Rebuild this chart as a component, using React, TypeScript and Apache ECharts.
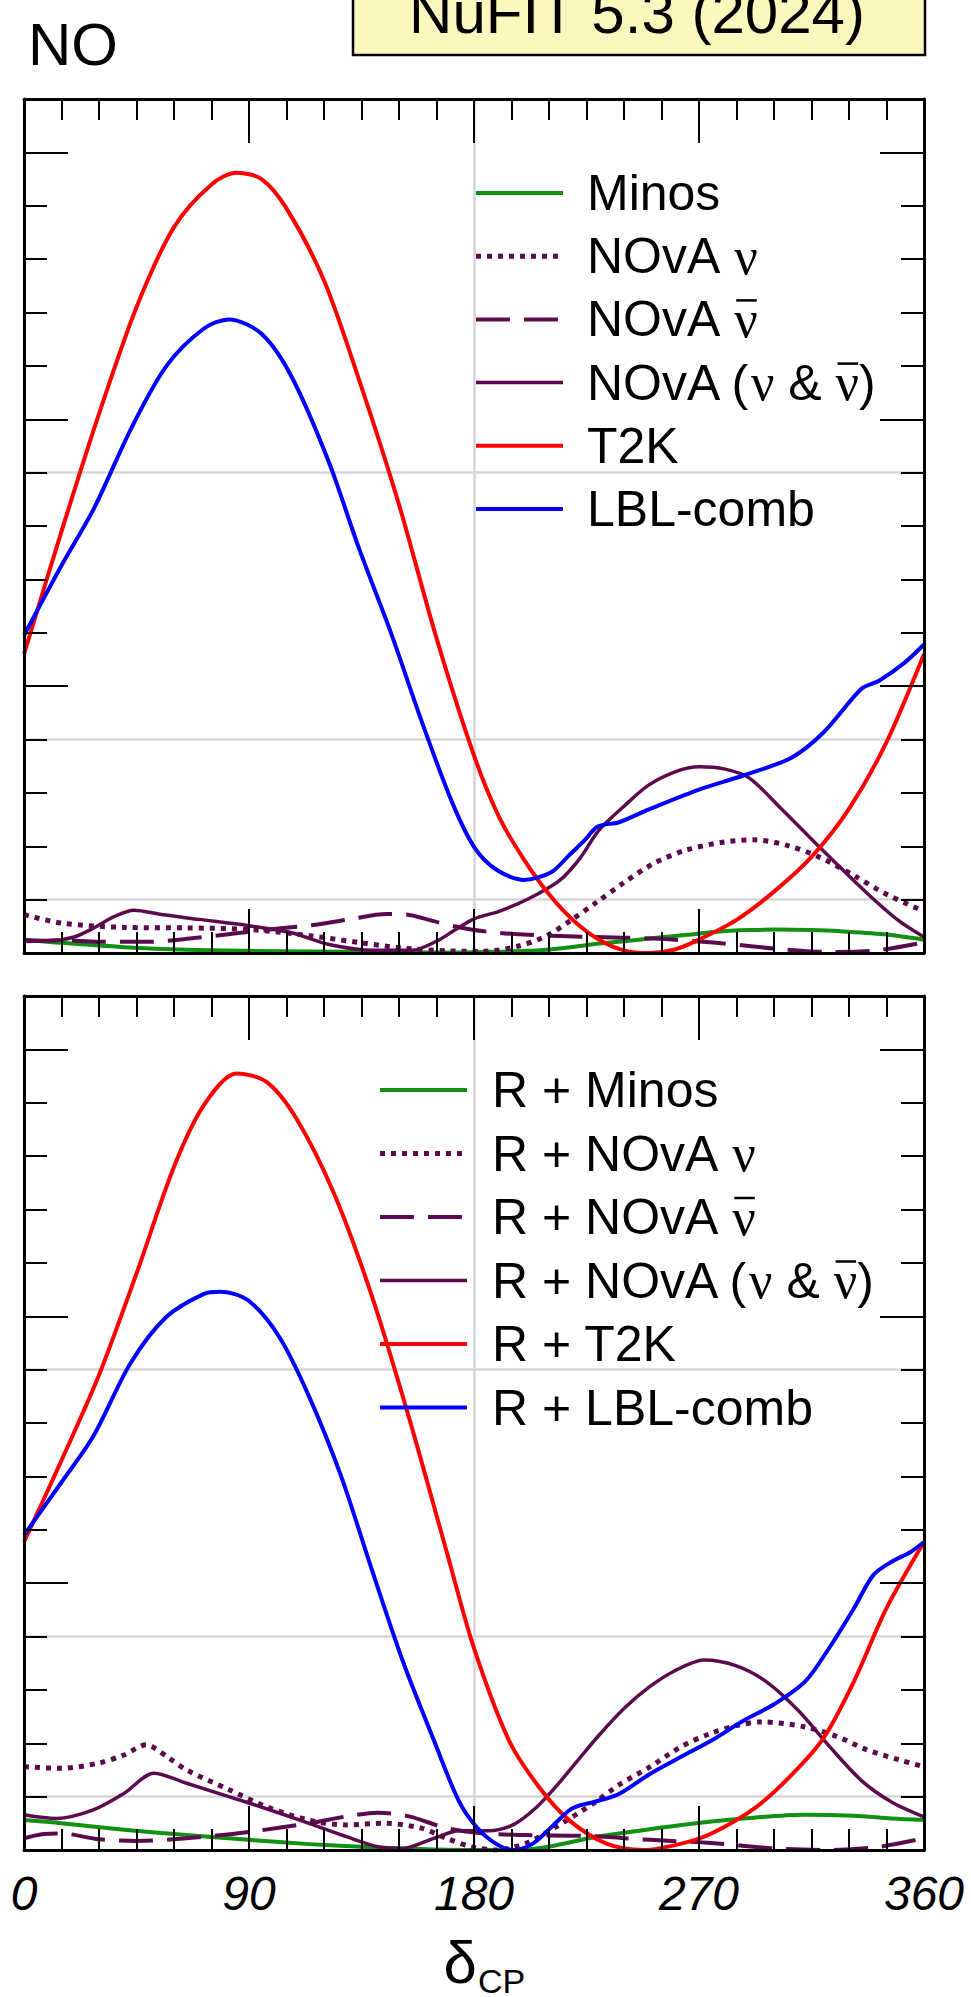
import React, { useEffect, useRef } from "react";
import * as echarts from "echarts";

// ---------- layout ----------
const W = 971;
const H = 1997;
const PLOT_L = 24;
const PLOT_W = 900;
const PLOT_H = 854;
const GRID_TOPS = [99, 996];

// ---------- axes / ticks ----------
const X_MIN = 0;
const X_MAX = 360;
const X_MAJOR = 90;
const X_MINOR = 15;
const Y_MIN = 0;
const Y_MAX = 16;
const Y_MAJOR = 5;
const Y_MINOR = 1;
const GRID_Y_VALUES = [1, 4, 9];
const GRID_X_VALUES = [180];

// ---------- top panel data (NO, without reactor) ----------
const minosTopX = [0, 15, 40, 65, 90, 115, 140, 165, 185, 202, 215, 227, 240, 252, 265, 277, 290, 302, 315, 326, 344, 360];
const minosTopY = [0.25, 0.19, 0.11, 0.06, 0.04, 0.03, 0.02, 0.01, 0.02, 0.04, 0.09, 0.16, 0.22, 0.28, 0.34, 0.4, 0.43, 0.44, 0.43, 0.41, 0.35, 0.25];

const novaNuTopX = [0, 15, 40, 65, 90, 115, 135, 152, 170, 183, 197, 209, 219, 229, 240, 252, 265, 280, 292, 305, 318, 332, 345, 360];
const novaNuTopY = [0.72, 0.56, 0.48, 0.47, 0.44, 0.32, 0.19, 0.09, 0.04, 0.03, 0.12, 0.32, 0.62, 0.95, 1.32, 1.68, 1.93, 2.08, 2.12, 2.02, 1.8, 1.45, 1.1, 0.78];

const novaNubarTopX = [0, 15, 30, 50, 68, 85, 100, 115, 130, 145, 153, 162, 172, 185, 202, 227, 252, 277, 301, 321, 339, 360];
const novaNubarTopY = [0.22, 0.24, 0.21, 0.21, 0.28, 0.37, 0.45, 0.52, 0.63, 0.73, 0.72, 0.62, 0.5, 0.4, 0.34, 0.3, 0.27, 0.19, 0.08, 0.02, 0.04, 0.2];

const novaBothTopX = [0, 10, 20, 28, 36, 44, 55, 70, 90, 107, 122, 140, 155, 165, 172, 180, 190, 202, 214, 222, 230, 240, 250, 262, 270, 280, 290, 303, 320, 337, 350, 360];
const novaBothTopY = [0.25, 0.23, 0.3, 0.47, 0.68, 0.8, 0.72, 0.63, 0.51, 0.38, 0.16, 0.05, 0.05, 0.22, 0.42, 0.64, 0.78, 1.02, 1.35, 1.75, 2.3, 2.75, 3.15, 3.42, 3.49, 3.45, 3.28, 2.7, 1.9, 1.13, 0.6, 0.3];

const t2kTopX = [0, 15, 30, 45, 60, 75, 85, 95, 105, 120, 135, 150, 165, 180, 190, 200, 210, 220, 230, 240, 250, 260, 270, 285, 300, 315, 330, 345, 360];
const t2kTopY = [5.6, 7.9, 10.1, 12.1, 13.6, 14.4, 14.62, 14.5, 13.95, 12.6, 10.6, 8.4, 5.9, 3.7, 2.55, 1.75, 1.1, 0.6, 0.25, 0.05, 0, 0.06, 0.25, 0.62, 1.15, 1.8, 2.7, 3.95, 5.6];

const lblTopX = [0, 15, 28, 43, 57, 72, 82, 95, 107, 122, 134, 147, 159, 171, 180, 189, 200, 206, 212, 218, 224, 229.5, 238, 250, 270, 288, 307, 320, 335, 342, 352, 360];
const lblTopY = [5.95, 7.26, 8.33, 9.84, 11.0, 11.7, 11.87, 11.6, 10.8, 9.19, 7.58, 5.97, 4.35, 2.85, 1.99, 1.56, 1.37, 1.42, 1.55, 1.83, 2.1, 2.37, 2.45, 2.69, 3.06, 3.33, 3.66, 4.14, 4.95, 5.1, 5.43, 5.78];

// ---------- bottom panel data (NO, with reactor R) ----------
const minosBotX = [0, 15, 40, 65, 90, 114, 139, 164, 189, 201, 213, 226, 238, 263, 288, 312, 332, 347, 360];
const minosBotY = [0.56, 0.5, 0.38, 0.28, 0.19, 0.11, 0.05, 0.01, 0, 0.01, 0.09, 0.22, 0.31, 0.47, 0.59, 0.66, 0.64, 0.59, 0.56];

const novaNuBotX = [0, 15, 30, 40, 48.8, 58, 65, 82, 97, 114, 129, 144, 159, 169, 179, 189, 201, 213, 228, 238, 250.5, 263, 275, 285, 295, 312, 325, 337, 350, 360];
const novaNuBotY = [1.56, 1.53, 1.63, 1.78, 1.97, 1.72, 1.5, 1.13, 0.81, 0.56, 0.47, 0.5, 0.41, 0.22, 0.06, 0.0, 0.13, 0.44, 0.88, 1.22, 1.56, 1.94, 2.19, 2.33, 2.4, 2.31, 2.13, 1.88, 1.69, 1.56];

const novaNubarBotX = [0, 8, 15, 30, 45, 65, 90, 114, 129, 141.6, 154, 169, 184, 201, 226, 250.5, 275, 300, 322, 342, 360];
const novaNubarBotY = [0.22, 0.3, 0.31, 0.2, 0.17, 0.22, 0.34, 0.5, 0.63, 0.7, 0.63, 0.41, 0.31, 0.28, 0.26, 0.19, 0.13, 0.03, 0, 0.06, 0.22];

const novaBothBotX = [0, 13, 27.7, 40, 52, 65, 90, 114, 129, 141.6, 151.5, 164, 174, 186, 196, 205, 213, 221, 230, 240, 250, 260, 272, 285, 297, 310, 322, 335, 347, 360];
const novaBothBotY = [0.66, 0.59, 0.75, 1.06, 1.44, 1.25, 0.88, 0.5, 0.25, 0.06, 0.03, 0.22, 0.36, 0.36, 0.48, 0.8, 1.2, 1.65, 2.15, 2.65, 3.05, 3.35, 3.56, 3.45, 3.15, 2.6, 1.95, 1.3, 0.9, 0.62];

const t2kBotX = [0, 15, 30, 45, 60, 72, 85, 97, 109, 124, 139, 154, 169, 180, 194, 206, 218, 233, 248, 263, 275, 293, 307.5, 320, 332, 345, 360];
const t2kBotY = [5.77, 7.3, 8.9, 10.8, 12.8, 13.96, 14.55, 14.39, 13.7, 12.3, 10.4, 8.1, 5.6, 3.78, 2.05, 1.18, 0.56, 0.12, 0, 0.12, 0.31, 0.81, 1.43, 2.11, 3.16, 4.53, 5.77];

const lblBotX = [0, 15, 27.7, 42.6, 57, 72, 78.5, 89.6, 102, 114, 126.8, 139, 151.5, 164, 173.8, 181, 188.7, 196, 203.5, 211, 218, 222, 228, 238, 250.5, 263, 275, 287.7, 300, 312.5, 322, 332, 339.7, 347, 354.5, 360];
const lblBotY = [5.9, 6.89, 7.75, 9.12, 9.99, 10.42, 10.46, 10.3, 9.62, 8.5, 7.01, 5.27, 3.54, 2.05, 0.93, 0.43, 0.12, 0.0, 0.12, 0.43, 0.74, 0.83, 0.9, 1.05, 1.43, 1.75, 2.05, 2.42, 2.73, 3.16, 3.78, 4.53, 5.15, 5.4, 5.58, 5.77];

// ---------- labels ----------
const xTickLabels = ["0", "90", "180", "270", "360"];
// legend label pieces: [text, kind]  kind: "s" sans, "g" greek (serif), "b" greek with bar
type Piece = [string, "s" | "g" | "b"];
const topLegend: Piece[][] = [
  [["Minos", "s"]],
  [["NOvA ", "s"], ["ν", "g"]],
  [["NOvA ", "s"], ["ν", "b"]],
  [["NOvA (", "s"], ["ν", "g"], [" & ", "s"], ["ν", "b"], [")", "s"]],
  [["T2K", "s"]],
  [["LBL-comb", "s"]],
];
const botLegend: Piece[][] = [
  [["R + Minos", "s"]],
  [["R + NOvA ", "s"], ["ν", "g"]],
  [["R + NOvA ", "s"], ["ν", "b"]],
  [["R + NOvA (", "s"], ["ν", "g"], [" & ", "s"], ["ν", "b"], [")", "s"]],
  [["R + T2K", "s"]],
  [["R + LBL-comb", "s"]],
];

// ---------- styles ----------
const RED = "#ff0000";
const BLUE = "#0000ff";
const GREEN = "#119011";
const PURPLE = "#5c0a4e";
const SANS = '"Liberation Sans", Arial, Helvetica, sans-serif';
const SERIF = '"Liberation Serif", "Times New Roman", serif';
const LEG_SANS = `50px ${SANS}`;
const LEG_SERIF = `52px ${SERIF}`;

type Sty = { color: string; width: number; dash: number[] | "solid" };
const STYLES: Sty[] = [
  { color: GREEN, width: 4, dash: "solid" },
  { color: PURPLE, width: 5, dash: [5, 6] },
  { color: PURPLE, width: 4, dash: [34, 14] },
  { color: PURPLE, width: 3.5, dash: "solid" },
  { color: RED, width: 4, dash: "solid" },
  { color: BLUE, width: 4, dash: "solid" },
];

function pairs(xs: number[], ys: number[]) {
  return xs.map((x, i) => [x, ys[i]]);
}

let measureCtx: CanvasRenderingContext2D | null = null;
function textWidth(t: string, font: string) {
  if (!measureCtx) measureCtx = document.createElement("canvas").getContext("2d");
  if (!measureCtx) return t.length * 25;
  measureCtx.font = font;
  return measureCtx.measureText(t).width;
}

function xAx(grid: number, position: "top" | "bottom", interval: number, len: number, line: boolean, labels: boolean) {
  return {
    type: "value",
    gridIndex: grid,
    position,
    min: X_MIN,
    max: X_MAX,
    interval,
    z: 6,
    axisLine: { show: line, onZero: false, lineStyle: { color: "#000", width: 3 } },
    axisTick: { show: true, inside: true, length: len, lineStyle: { color: "#000", width: 2 } },
    axisLabel: labels
      ? {
          show: true,
          margin: 19,
          color: "#000",
          fontSize: 48,
          fontStyle: "italic",
          fontFamily: SANS,
          formatter: (v: number) => xTickLabels[Math.round(v / X_MAJOR)] ?? "",
        }
      : { show: false },
    splitLine: { show: false },
  };
}

function yAx(grid: number, position: "left" | "right", interval: number, len: number, line: boolean) {
  return {
    type: "value",
    gridIndex: grid,
    position,
    min: Y_MIN,
    max: Y_MAX,
    interval,
    z: 6,
    axisLine: { show: line, onZero: false, lineStyle: { color: "#000", width: 3 } },
    axisTick: { show: true, inside: true, length: len, lineStyle: { color: "#000", width: 2 } },
    axisLabel: { show: false },
    splitLine: { show: false },
  };
}

function curve(name: string, xs: number[], ys: number[], grid: number, s: Sty, z: number) {
  return {
    type: "line",
    name,
    xAxisIndex: grid * 4,
    yAxisIndex: grid * 4,
    data: pairs(xs, ys),
    showSymbol: false,
    symbol: "none",
    smooth: 0.3,
    silent: true,
    clip: true,
    z,
    lineStyle: { color: s.color, width: s.width, type: s.dash, cap: "butt", join: "round" },
  };
}

function gridLines(grid: number) {
  return {
    type: "line",
    xAxisIndex: grid * 4,
    yAxisIndex: grid * 4,
    data: [],
    silent: true,
    z: 1,
    markLine: {
      silent: true,
      symbol: "none",
      z: 1,
      label: { show: false },
      lineStyle: { color: "#d6d6d6", width: 2.5, type: "solid" },
      data: [...GRID_Y_VALUES.map((v) => ({ yAxis: v })), ...GRID_X_VALUES.map((v) => ({ xAxis: v }))],
    },
  };
}

function legendGraphics(labels: Piece[][], lineX1: number, lineX2: number, textX: number, y0: number, dy: number) {
  const els: any[] = [];
  labels.forEach((pieces, i) => {
    const s = STYLES[i];
    const y = y0 + i * dy;
    els.push({
      type: "line",
      z: 20,
      shape: { x1: lineX1, y1: y, x2: lineX2, y2: y },
      style: {
        stroke: s.color,
        lineWidth: s.width,
        lineDash: s.dash === "solid" ? null : s.dash,
        lineCap: "butt",
      },
    });
    let x = textX;
    pieces.forEach(([t, kind]) => {
      const font = kind === "s" ? LEG_SANS : LEG_SERIF;
      const w = textWidth(t, font);
      els.push({
        type: "text",
        z: 20,
        x,
        y,
        style: { text: t, font, fill: "#000", align: "left", verticalAlign: "middle" },
      });
      if (kind === "b") {
        els.push({
          type: "line",
          z: 20,
          shape: { x1: x + 2, y1: y - 19, x2: x + w - 1, y2: y - 19 },
          style: { stroke: "#000", lineWidth: 2.5 },
        });
      }
      x += w;
    });
  });
  return els;
}

export default function App() {
  const ref = useRef<HTMLDivElement>(null);
  useEffect(() => {
    if (!ref.current) return;
    const chart = echarts.init(ref.current, null, { renderer: "svg", width: W, height: H });
    const grids = GRID_TOPS.map((t) => ({ left: PLOT_L, top: t, width: PLOT_W, height: PLOT_H, containLabel: false }));
    const xAxes: any[] = [];
    const yAxes: any[] = [];
    [0, 1].forEach((g) => {
      xAxes.push(xAx(g, "bottom", X_MINOR, 21, true, false));
      xAxes.push(xAx(g, "bottom", X_MAJOR, 44, false, g === 1));
      xAxes.push(xAx(g, "top", X_MINOR, 21, true, false));
      xAxes.push(xAx(g, "top", X_MAJOR, 44, false, false));
      yAxes.push(yAx(g, "left", Y_MINOR, 23, true));
      yAxes.push(yAx(g, "left", Y_MAJOR, 44, false));
      yAxes.push(yAx(g, "right", Y_MINOR, 23, true));
      yAxes.push(yAx(g, "right", Y_MAJOR, 44, false));
    });

    const series: any[] = [
      gridLines(0),
      gridLines(1),
      curve("Minos", minosTopX, minosTopY, 0, STYLES[0], 3),
      curve("NOvA nu", novaNuTopX, novaNuTopY, 0, STYLES[1], 3),
      curve("NOvA nubar", novaNubarTopX, novaNubarTopY, 0, STYLES[2], 3),
      curve("NOvA both", novaBothTopX, novaBothTopY, 0, STYLES[3], 3),
      curve("T2K", t2kTopX, t2kTopY, 0, STYLES[4], 4),
      curve("LBL-comb", lblTopX, lblTopY, 0, STYLES[5], 4),
      curve("R + Minos", minosBotX, minosBotY, 1, STYLES[0], 3),
      curve("R + NOvA nu", novaNuBotX, novaNuBotY, 1, STYLES[1], 3),
      curve("R + NOvA nubar", novaNubarBotX, novaNubarBotY, 1, STYLES[2], 3),
      curve("R + NOvA both", novaBothBotX, novaBothBotY, 1, STYLES[3], 3),
      curve("R + T2K", t2kBotX, t2kBotY, 1, STYLES[4], 4),
      curve("R + LBL-comb", lblBotX, lblBotY, 1, STYLES[5], 4),
    ];

    const graphic: any[] = [
      {
        type: "rect",
        z: 20,
        shape: { x: 353, y: -10, width: 572, height: 65 },
        style: { fill: "#fbf8be", stroke: "#000", lineWidth: 2.5 },
      },
      {
        type: "text",
        z: 21,
        x: 637,
        y: 12,
        style: { text: "NuFIT 5.3 (2024)", font: `60px ${SANS}`, fill: "#000", align: "center", verticalAlign: "middle" },
      },
      {
        type: "text",
        z: 21,
        x: 28,
        y: 44,
        style: { text: "NO", font: `60px ${SANS}`, fill: "#000", align: "left", verticalAlign: "middle" },
      },
      {
        type: "text",
        z: 21,
        x: 477,
        y: 1962,
        style: { text: "δ", font: `60px ${SANS}`, fill: "#000", align: "right", verticalAlign: "middle" },
      },
      {
        type: "text",
        z: 21,
        x: 478,
        y: 1981,
        style: { text: "CP", font: `34px ${SANS}`, fill: "#000", align: "left", verticalAlign: "middle" },
      },
      ...legendGraphics(topLegend, 476, 563, 587, 193, 63.2),
      ...legendGraphics(botLegend, 380, 467, 492, 1090, 63.5),
    ];

    chart.setOption({
      animation: false,
      backgroundColor: "#fff",
      grid: grids,
      xAxis: xAxes,
      yAxis: yAxes,
      series,
      graphic,
    });
    return () => chart.dispose();
  }, []);
  return <div ref={ref} style={{ position: "absolute", left: 0, top: 0, width: W, height: H, background: "#fff" }} />;
}
